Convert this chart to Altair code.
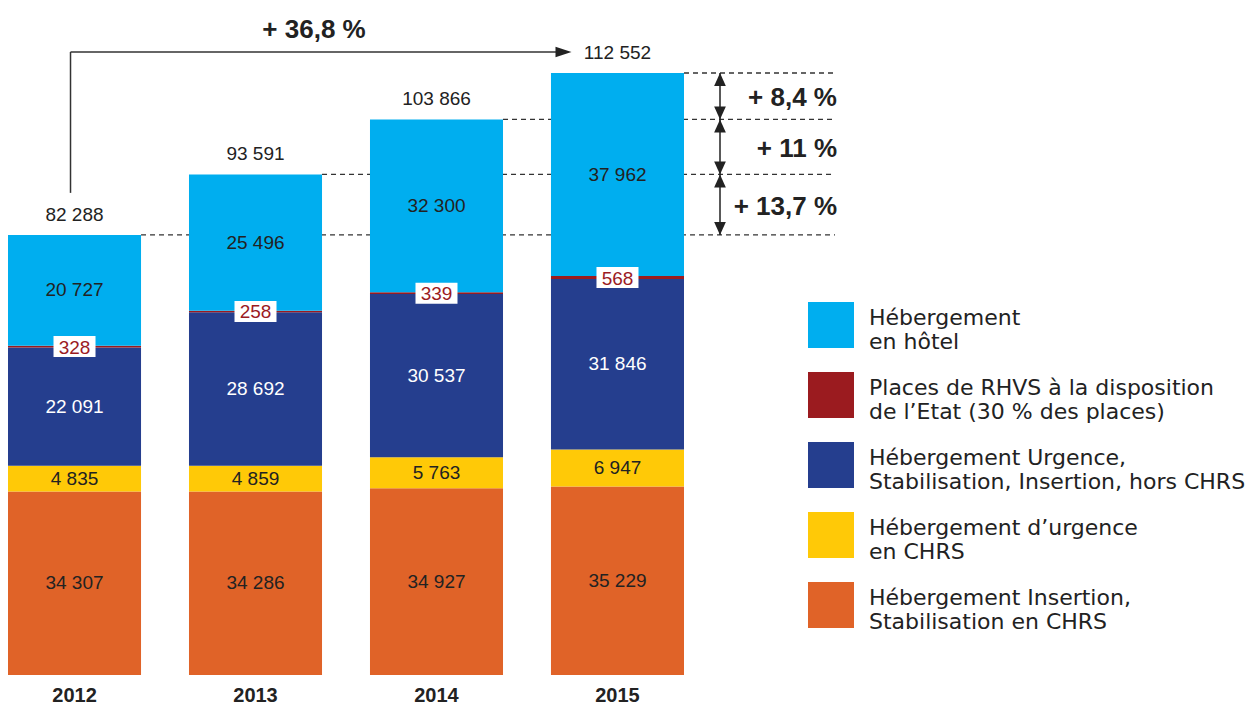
import altair as alt
import pandas as pd

years = ["2012", "2013", "2014", "2015"]

# legend order (top of stack first)
cat_names = [
    "Hébergement\nen hôtel",
    "Places de RHVS à la disposition\nde l’Etat (30 % des places)",
    "Hébergement Urgence,\nStabilisation, Insertion, hors CHRS",
    "Hébergement d’urgence\nen CHRS",
    "Hébergement Insertion,\nStabilisation en CHRS",
]
cat_colors = ["#00AEEF", "#9B1B1F", "#253E8E", "#FFC907", "#E06328"]
text_colors = ["#222222", "#9B1B1F", "#FFFFFF", "#222222", "#222222"]

hotel = [20727, 25496, 32300, 37962]
rhvs = [328, 258, 339, 568]
hors_chrs = [22091, 28692, 30537, 31846]
urgence_chrs = [4835, 4859, 5763, 6947]
insertion = [34307, 34286, 34927, 35229]

totals = [82288, 93591, 103866, 112552]
growth_labels = ["+ 13,7 %", "+ 11 %", "+ 8,4 %"]
total_growth_label = "+ 36,8 %"

series = [hotel, rhvs, hors_chrs, urgence_chrs, insertion]


def fmt(v):
    return f"{v:,}".replace(",", " ")


rows = []
for yi, yr in enumerate(years):
    base = 0
    # stack from bottom (last in legend order) to top
    for ci in range(len(cat_names) - 1, -1, -1):
        v = series[ci][yi]
        rows.append(dict(year=yr, cat=cat_names[ci], value=v, start=base,
                         end=base + v, mid=base + v / 2, label=fmt(v),
                         tcolor=text_colors[ci], is_rhvs=(ci == 1)))
        base += v
df = pd.DataFrame(rows)
df_main = df[~df.is_rhvs]
df_rhvs = df[df.is_rhvs]

df_tot = pd.DataFrame(dict(year=years, total=totals, label=[fmt(t) for t in totals]))

df_growth = pd.DataFrame(dict(
    year=years[1:], prev=totals[:-1], total=totals[1:],
    mid=[(a + b) / 2 for a, b in zip(totals[:-1], totals[1:])],
    label=growth_labels))

df_conn = pd.DataFrame(dict(first_year=[years[0]], last_year=[years[-1]],
                            first_total=[totals[0]], last_total=[totals[-1]]))

FONT = "Liberation Sans"

xscale = alt.Scale(paddingInner=0.265, paddingOuter=0)
yscale = alt.Scale(domain=[0, 124706], nice=False)
xaxis = alt.Axis(labelAngle=0, domain=False, ticks=False, labelFontSize=20,
                 labelFontWeight="bold", labelColor="#222222", labelPadding=10,
                 labelFont=FONT)

dashes = alt.Chart(df_tot).mark_rule(strokeDash=[5, 4], color="#333333", strokeWidth=1.3).encode(
    x=alt.X("year:O", bandPosition=1, scale=xscale, title=None, axis=xaxis),
    x2=alt.value(827),
    y=alt.Y("total:Q", scale=yscale, axis=None))

bars = alt.Chart(df).mark_bar().encode(
    x=alt.X("year:O", scale=xscale, title=None, axis=xaxis),
    y=alt.Y("start:Q", scale=yscale, axis=None),
    y2="end:Q",
    color=alt.Color("cat:N", scale=alt.Scale(domain=cat_names, range=cat_colors),
                    legend=alt.Legend(title=None, orient="none", legendX=800, legendY=294,
                                      symbolType="square", symbolSize=2116,
                                      symbolStrokeWidth=0, rowPadding=19,
                                      labelFontSize=22, labelFont="DejaVu Sans",
                                      labelColor="#222222", labelOffset=15,
                                      labelLimit=600, padding=0,
                                      labelBaseline="alphabetic",
                                      labelExpr="split(datum.label, '\\n')")),
)

seg_text = alt.Chart(df_main).mark_text(fontSize=19, font=FONT, baseline="middle").encode(
    x="year:O", y="mid:Q", text="label:N", color=alt.Color("tcolor:N", scale=None))

rhvs_box = alt.Chart(df_rhvs).mark_tick(color="white", opacity=1, thickness=21, size=42).encode(
    x="year:O", y="mid:Q")
rhvs_text = alt.Chart(df_rhvs).mark_text(fontSize=19, font=FONT, baseline="middle",
                                         color="#9B1B1F", dy=1).encode(
    x="year:O", y="mid:Q", text="label:N")

tot_text = alt.Chart(df_tot).mark_text(fontSize=19, font=FONT, baseline="middle",
                                       color="#222222", dy=-20).encode(
    x="year:O", y="total:Q", text="label:N")

arrow_shaft = alt.Chart(df_growth).mark_rule(color="#222222", strokeWidth=1.5).encode(
    x=alt.value(712), y="prev:Q", y2="total:Q")
arrow_up = alt.Chart(df_growth).mark_point(shape="M0,-1L0.9,1L-0.9,1Z", filled=True,
                                           opacity=1, color="#222222", size=169,
                                           yOffset=6.5, strokeWidth=0).encode(
    x=alt.value(712), y="total:Q")
arrow_down = alt.Chart(df_growth).mark_point(shape="M0,1L0.9,-1L-0.9,-1Z", filled=True,
                                             opacity=1, color="#222222", size=169,
                                             yOffset=-6.5, strokeWidth=0).encode(
    x=alt.value(712), y="prev:Q")
growth_text = alt.Chart(df_growth).mark_text(fontSize=26, font=FONT, fontWeight="bold",
                                             align="right", baseline="middle",
                                             color="#222222", dy=2).encode(
    x=alt.value(829), y="mid:Q", text="label:N")

conn_v = alt.Chart(df_conn).mark_rule(color="#333333", strokeWidth=1.5, xOffset=-4,
                                      yOffset=-42, y2Offset=-21).encode(
    x="first_year:O", y="first_total:Q", y2="last_total:Q")
conn_h = alt.Chart(df_conn).mark_rule(color="#333333", strokeWidth=1.5, xOffset=-4,
                                      x2Offset=-56, yOffset=-21).encode(
    x="first_year:O", x2="last_year:O", y="last_total:Q")
conn_head = alt.Chart(df_conn).mark_point(shape="M1,0L-1,-0.65L-1,0.65Z", filled=True,
                                          opacity=1, color="#222222", size=256,
                                          xOffset=-54, yOffset=-21, strokeWidth=0).encode(
    x="last_year:O", y="last_total:Q")
conn_text = alt.Chart(pd.DataFrame(dict(label=[total_growth_label]))).mark_text(
    fontSize=26, font=FONT, fontWeight="bold", color="#222222", baseline="middle").encode(
    x=alt.value(306), y=alt.value(22), text="label:N")

chart = alt.layer(
    dashes, bars, seg_text, rhvs_box, rhvs_text, tot_text,
    arrow_shaft, arrow_up, arrow_down, growth_text,
    conn_v, conn_h, conn_head, conn_text,
).properties(width=676, height=667, padding=0).configure_view(stroke=None)

chart.save("out.html", embed_options={"renderer": "svg", "actions": False})
